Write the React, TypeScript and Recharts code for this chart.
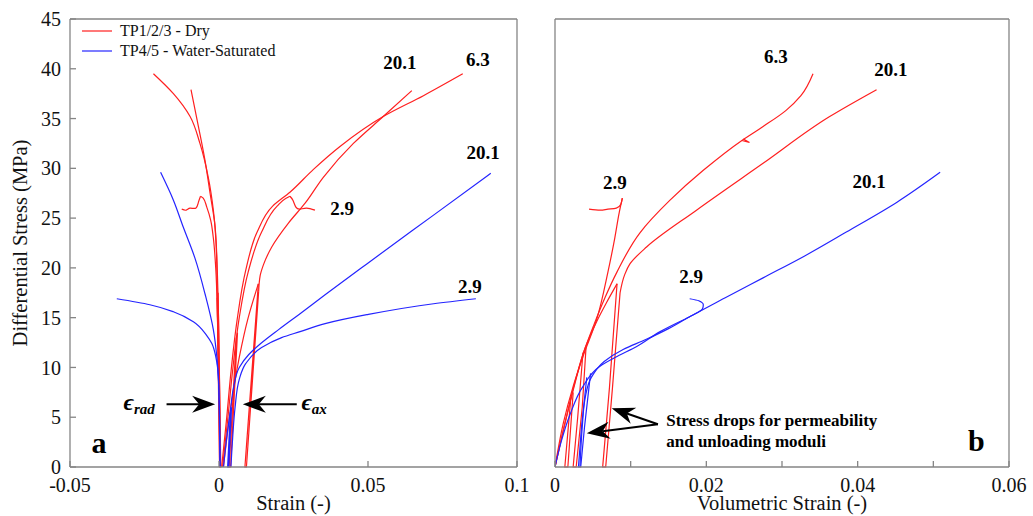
import { LineChart, Line, XAxis, YAxis, Legend, ReferenceLine, ReferenceDot } from 'recharts';

const RED = '#ff1f1f';
const BLUE = '#2424ff';
const AXIS = '#858585';
const FONT = '"Liberation Serif", "Times New Roman", serif';

type Pt = [number, number];

// ---- panel a: strain (radial < 0, axial > 0) vs differential stress (MPa)
const dry63Rad: Pt[] = [[0.0003, 0], [0.0001, 5], [-0.0002, 10], [-0.0005, 15], [-0.0008, 21.1], [-0.0019, 25.8], [-0.0036, 29.1], [-0.0064, 32.5], [-0.0097, 35.2], [-0.0153, 37.5], [-0.022, 39.5]];
const dry201Rad: Pt[] = [[0.0005, 0], [0.0003, 6], [0, 12], [-0.0004, 18], [-0.0013, 24.1], [-0.003, 27.5], [-0.0047, 30.8], [-0.0069, 34.2], [-0.0094, 37.9]];
const dry29Rad: Pt[] = [[0.0002, 0], [0, 8], [-0.0005, 15], [-0.0011, 20], [-0.0019, 23], [-0.0028, 24.8], [-0.0041, 26.1], [-0.0053, 27.0], [-0.0062, 27.2]];
const dry29RadTail: Pt[] = [[-0.0062, 27.2], [-0.0069, 26.6], [-0.0078, 26.0], [-0.0097, 26.0], [-0.011, 25.8], [-0.0125, 25.9]];
const wet201Rad: Pt[] = [[0.0004, 0], [0.0001, 6.4], [-0.0007, 11], [-0.0019, 13.8], [-0.0047, 17.4], [-0.0081, 21], [-0.012, 24.1], [-0.0153, 26.8], [-0.0196, 29.6]];
const wet29Rad: Pt[] = [[0.0003, 0], [-0.0001, 8.4], [-0.0011, 11.1], [-0.0024, 12.4], [-0.0041, 13.2], [-0.0086, 14.6], [-0.0153, 15.6], [-0.0232, 16.3], [-0.0343, 16.9]];

const dry29Ax: Pt[] = [[0.0012, 0], [0.003, 5], [0.0045, 9.5], [0.0068, 15], [0.0098, 19.6], [0.0143, 23.6], [0.0195, 26.2], [0.0225, 27.0], [0.0238, 27.2]];
const dry29AxTail: Pt[] = [[0.0238, 27.2], [0.0248, 26.8], [0.0258, 26.1], [0.0272, 25.9], [0.0294, 26.0], [0.0322, 25.8]];
const dry63Ax: Pt[] = [[0.0009, 0], [0.0026, 5], [0.004, 9.5], [0.006, 14.6], [0.009, 19.8], [0.0128, 23.6], [0.018, 26.2], [0.0238, 27.6], [0.0317, 29.9], [0.0406, 32.2], [0.0551, 35.2], [0.0686, 37.3], [0.0818, 39.5]];
const dry201AxLoad: Pt[] = [[0.0015, 0], [0.004, 6], [0.0068, 11], [0.0098, 15], [0.0132, 18.4]];
const dry201AxCycle: Pt[] = [[0.0132, 18.4], [0.0087, 0], [0.0092, 0], [0.0133, 17.6]];
const dry201AxPost: Pt[] = [[0.0133, 17.6], [0.0138, 19.2], [0.0149, 20.3], [0.0177, 22.1], [0.0233, 24.5], [0.0289, 26.5], [0.035, 29.1], [0.0451, 32.5], [0.0551, 35.2], [0.0647, 37.8]];
const wet201Ax: Pt[] = [[0.0015, 0], [0.0026, 3], [0.0037, 5.4], [0.0049, 8], [0.0068, 10], [0.01, 11.3], [0.014, 12.4], [0.02, 13.8], [0.0272, 15.4], [0.0356, 17.3], [0.0496, 20.4], [0.072, 25.3], [0.0912, 29.5]];
const wet29Ax: Pt[] = [[0.004, 0], [0.0046, 3], [0.0054, 6], [0.0068, 8.8], [0.009, 10.4], [0.0143, 12.0], [0.021, 13.0], [0.0272, 13.6], [0.0356, 14.4], [0.0496, 15.3], [0.072, 16.4], [0.0862, 16.9]];
const dryAxLoop: Pt[] = [[0.0058, 13], [0.0034, 0], [0.0039, 0], [0.0062, 13.5]];
const dryRadLoop: Pt[] = [[-0.0006, 17], [0.0002, 0], [0.0006, 0], [-0.0003, 17.5]];
const wetAxLoop: Pt[] = [[0.0038, 5.5], [0.0029, 0], [0.0033, 0], [0.0042, 6]];

// ---- panel b: volumetric strain vs differential stress (MPa)
const dry29Vol: Pt[] = [[0, 0], [0.0011, 4.4], [0.0024, 8.1], [0.0037, 11.1], [0.0055, 14.8], [0.007, 19.6], [0.0079, 23], [0.0085, 25.6], [0.0089, 27.0]];
const dry29VolTail: Pt[] = [[0.0089, 27.0], [0.0087, 26.4], [0.0081, 26.0], [0.007, 25.9], [0.006, 25.8], [0.0045, 25.9]];
const dry63Vol: Pt[] = [[0, 0], [0.0012, 4], [0.0025, 8], [0.0037, 11.3], [0.0051, 14.2], [0.0066, 17], [0.0082, 19.6], [0.0112, 23.5], [0.0152, 26.8], [0.0196, 29.8], [0.0247, 32.8], [0.0275, 34.2], [0.0305, 35.8], [0.0325, 37.3], [0.0341, 39.5]];
const dry63VolBlip: Pt[] = [[0.0247, 32.8], [0.0257, 32.6], [0.0249, 32.95]];
const dry201VolLoad: Pt[] = [[0, 0], [0.0015, 5], [0.0028, 9], [0.004, 12], [0.0055, 14.6], [0.0068, 16.5], [0.0082, 18.4]];
const dry201VolCycle: Pt[] = [[0.0082, 18.4], [0.0072, 8], [0.0063, 0], [0.0067, 0], [0.0076, 8], [0.0086, 17.5]];
const dry201VolPost: Pt[] = [[0.0086, 17.5], [0.0092, 19.3], [0.0099, 20.4], [0.0121, 22.1], [0.0187, 25.8], [0.0275, 30.5], [0.0363, 35.2], [0.0425, 37.9]];
const wet201Vol: Pt[] = [[0, 0], [0.0008, 2.5], [0.002, 5.3], [0.0037, 8.1], [0.0059, 10.1], [0.0082, 11.1], [0.0108, 12.1], [0.0139, 13.6], [0.0178, 15.1], [0.0225, 17.0], [0.0275, 19.0], [0.033, 21.2], [0.0385, 23.6], [0.0452, 26.6], [0.0509, 29.6]];
const wet29Vol: Pt[] = [[0.0033, 0], [0.0036, 4], [0.004, 7], [0.0048, 9], [0.0065, 10.6], [0.009, 11.8], [0.012, 12.8], [0.015, 13.9], [0.0178, 15.1], [0.0188, 15.5], [0.0195, 15.9], [0.0196, 16.3], [0.019, 16.7], [0.0178, 16.9]];
const dryVolLoopA: Pt[] = [[0.0037, 11.5], [0.003, 5], [0.0024, 0], [0.0028, 0], [0.0036, 6], [0.0041, 12]];
const dryVolLoopB: Pt[] = [[0.0021, 7], [0.0013, 0], [0.0017, 0], [0.0024, 7.5]];
const wetVolLoop: Pt[] = [[0.0042, 9], [0.0035, 4], [0.0031, 0], [0.0034, 0], [0.0039, 4], [0.0047, 9.4]];

// ticks
const stressTicks = [0, 5, 10, 15, 20, 25, 30, 35, 40, 45];
const strainTicks = [-0.05, 0, 0.05, 0.1];
const volTicks = [0, 0.01, 0.02, 0.03, 0.04, 0.05, 0.06];
const volLabelTicks = [0, 0.02, 0.04, 0.06];

// confining pressure labels (MPa)
const labelsA: [number, number, string][] = [[0.0607, 40.6, '20.1'], [0.0869, 40.9, '6.3'], [0.0886, 31.6, '20.1'], [0.0413, 26, '2.9'], [0.0842, 18.1, '2.9']];
const labelsB: [number, number, string][] = [[0.0292, 41.2, '6.3'], [0.0444, 39.9, '20.1'], [0.0079, 28.6, '2.9'], [0.0415, 28.7, '20.1'], [0.018, 19.2, '2.9']];

type Curve = 'natural' | 'linear' | 'monotoneY';
interface Series { id: string; data: Pt[]; color: string; curve: Curve; name?: string }

const seriesA: Series[] = [
  { id: 'dry63Rad', data: dry63Rad, color: RED, curve: 'monotoneY', name: 'TP1/2/3 - Dry' },
  { id: 'dry201Rad', data: dry201Rad, color: RED, curve: 'monotoneY' },
  { id: 'dry29Rad', data: dry29Rad, color: RED, curve: 'monotoneY' },
  { id: 'dry29RadTail', data: dry29RadTail, color: RED, curve: 'natural' },
  { id: 'dryRadLoop', data: dryRadLoop, color: RED, curve: 'linear' },
  { id: 'dry29Ax', data: dry29Ax, color: RED, curve: 'monotoneY' },
  { id: 'dry29AxTail', data: dry29AxTail, color: RED, curve: 'natural' },
  { id: 'dry63Ax', data: dry63Ax, color: RED, curve: 'monotoneY' },
  { id: 'dry201AxLoad', data: dry201AxLoad, color: RED, curve: 'monotoneY' },
  { id: 'dry201AxCycle', data: dry201AxCycle, color: RED, curve: 'linear' },
  { id: 'dry201AxPost', data: dry201AxPost, color: RED, curve: 'monotoneY' },
  { id: 'dryAxLoop', data: dryAxLoop, color: RED, curve: 'linear' },
  { id: 'wet201Rad', data: wet201Rad, color: BLUE, curve: 'monotoneY', name: 'TP4/5 - Water-Saturated' },
  { id: 'wet29Rad', data: wet29Rad, color: BLUE, curve: 'monotoneY' },
  { id: 'wet201Ax', data: wet201Ax, color: BLUE, curve: 'monotoneY' },
  { id: 'wet29Ax', data: wet29Ax, color: BLUE, curve: 'monotoneY' },
  { id: 'wetAxLoop', data: wetAxLoop, color: BLUE, curve: 'linear' },
];

const seriesB: Series[] = [
  { id: 'dry29Vol', data: dry29Vol, color: RED, curve: 'monotoneY' },
  { id: 'dry29VolTail', data: dry29VolTail, color: RED, curve: 'natural' },
  { id: 'dry63Vol', data: dry63Vol, color: RED, curve: 'monotoneY' },
  { id: 'dry63VolBlip', data: dry63VolBlip, color: RED, curve: 'linear' },
  { id: 'dry201VolLoad', data: dry201VolLoad, color: RED, curve: 'monotoneY' },
  { id: 'dry201VolCycle', data: dry201VolCycle, color: RED, curve: 'linear' },
  { id: 'dry201VolPost', data: dry201VolPost, color: RED, curve: 'monotoneY' },
  { id: 'dryVolLoopA', data: dryVolLoopA, color: RED, curve: 'linear' },
  { id: 'dryVolLoopB', data: dryVolLoopB, color: RED, curve: 'linear' },
  { id: 'wet201Vol', data: wet201Vol, color: BLUE, curve: 'monotoneY' },
  { id: 'wet29Vol', data: wet29Vol, color: BLUE, curve: 'monotoneY' },
  { id: 'wetVolLoop', data: wetVolLoop, color: BLUE, curve: 'linear' },
];

const pts = (a: Pt[]) => a.map(([x, y]) => ({ x, y }));

const renderLines = (list: Series[]) =>
  list.map((s) => (
    <Line
      key={s.id}
      data={pts(s.data)}
      dataKey="y"
      type={s.curve}
      stroke={s.color}
      strokeWidth={1.2}
      dot={false}
      activeDot={false}
      name={s.name ?? s.id}
      legendType={s.name ? 'plainline' : 'none'}
      isAnimationActive={false}
    />
  ));

const tickFont = { fill: '#111', fontSize: 20, fontFamily: FONT };
const axisLabel = { fill: '#111', fontSize: 20.5, fontFamily: FONT };

const boldText = (text: string, size = 19) => (p: any) => (
  <text x={p.cx} y={p.cy} dy={size * 0.35} textAnchor="middle" fontFamily={FONT} fontWeight="bold" fontSize={size} fill="#000">
    {text}
  </text>
);

const epsText = (sub: string) => (p: any) => (
  <text x={p.cx} y={p.cy + 5} textAnchor="middle" fontFamily={FONT} fontStyle="italic" fontWeight="bold" fill="#000">
    <tspan fontSize={24}>ϵ</tspan>
    <tspan fontSize={15} dy={4}>{sub}</tspan>
  </text>
);

const dropsText = (p: any) => (
  <text fontFamily={FONT} fontWeight="bold" fontSize={17} fill="#000">
    <tspan x={p.cx} y={p.cy + 5}>Stress drops for permeability</tspan>
    <tspan x={p.cx} y={p.cy + 26}>and unloading moduli</tspan>
  </text>
);

// arrow from segment start (tail) to segment end (tip)
const arrow = (p: any) => {
  const { x1, y1, x2, y2 } = p;
  const a = Math.atan2(y2 - y1, x2 - x1);
  const L = 23, W = 8.5, N = 7;
  const cos = Math.cos(a), sin = Math.sin(a);
  const at = (back: number, side: number) => `${x2 - back * cos - side * sin},${y2 - back * sin + side * cos}`;
  return (
    <g>
      <line x1={x1} y1={y1} x2={x2 - (L - N) * cos} y2={y2 - (L - N) * sin} stroke="#000" strokeWidth={2} />
      <polygon points={`${x2},${y2} ${at(L, W)} ${at(L - N, 0)} ${at(L, -W)}`} fill="#000" />
    </g>
  );
};

const renderLegend = (props: any) => (
  <div style={{ fontFamily: FONT, fontSize: 16, color: '#111', lineHeight: '20px' }}>
    {(props.payload ?? [])
      .filter((e: any) => e.type !== 'none')
      .map((e: any) => (
        <div key={e.value} style={{ display: 'flex', alignItems: 'center', whiteSpace: 'nowrap' }}>
          <svg width={42} height={20}>
            <line x1={4} y1={10} x2={34} y2={10} stroke={e.color} strokeWidth={1.2} />
          </svg>
          <span>{e.value}</span>
        </div>
      ))}
  </div>
);

const frameLine = { stroke: AXIS, strokeWidth: 1.3 };

export default function App() {
  return (
    <div style={{ position: 'fixed', left: 0, top: 0, width: 1033, height: 516, background: '#fff' }}>
      <div style={{ position: 'absolute', left: 0, top: 0 }}>
        <LineChart width={540} height={516} margin={{ top: 18, right: 22, bottom: 0, left: 0 }}>
          <XAxis dataKey="x" type="number" domain={[-0.05, 0.1]} ticks={strainTicks} interval={0} allowDataOverflow height={49}
            tickSize={-6} tickMargin={17} tick={tickFont} axisLine={frameLine} tickLine={frameLine}
            label={{ value: 'Strain (-)', position: 'insideBottom', offset: 6, ...axisLabel }} />
          <XAxis xAxisId="top" orientation="top" dataKey="x" type="number" domain={[-0.05, 0.1]} ticks={strainTicks} interval={0}
            height={1} tickSize={-6} tick={false} axisLine={frameLine} tickLine={frameLine} />
          <YAxis type="number" domain={[0, 45]} ticks={stressTicks} interval={0} width={70} tickSize={-6} tickMargin={15}
            tick={tickFont} axisLine={frameLine} tickLine={frameLine}
            label={{ value: 'Differential Stress (MPa)', angle: -90, position: 'center', dx: -15, ...axisLabel }} />
          <YAxis yAxisId="right" orientation="right" type="number" domain={[0, 45]} ticks={stressTicks} interval={0}
            width={1} tickSize={-6} tick={false} axisLine={frameLine} tickLine={frameLine} />
          <Legend layout="vertical" align="center" verticalAlign="middle" wrapperStyle={{ left: 78, top: 21, width: 'auto' }} content={renderLegend} />
          {renderLines(seriesA)}
          <ReferenceLine segment={[{ x: -0.0176, y: 6.3 }, { x: -0.0013, y: 6.3 }]} shape={arrow} />
          <ReferenceLine segment={[{ x: 0.0261, y: 6.3 }, { x: 0.008, y: 6.3 }]} shape={arrow} />
          <ReferenceDot x={-0.0268} y={6.2} r={1} shape={epsText('rad')} />
          <ReferenceDot x={0.0319} y={6.2} r={1} shape={epsText('ax')} />
          {labelsA.map(([x, y, t], i) => (
            <ReferenceDot key={`la${i}`} x={x} y={y} r={1} shape={boldText(t)} />
          ))}
          <ReferenceDot x={-0.0403} y={2.5} r={1} shape={boldText('a', 30)} />
        </LineChart>
      </div>
      <div style={{ position: 'absolute', left: 530, top: 0 }}>
        <LineChart width={503} height={516} margin={{ top: 18, right: 23, bottom: 0, left: 0 }}>
          <XAxis dataKey="x" type="number" domain={[0, 0.06]} ticks={volTicks} interval={0} allowDataOverflow height={49}
            tickSize={-6} tickMargin={17} tick={tickFont} axisLine={frameLine} tickLine={frameLine}
            tickFormatter={(v: number) => (volLabelTicks.includes(v) ? String(v) : '')}
            label={{ value: 'Volumetric Strain (-)', position: 'insideBottom', offset: 6, ...axisLabel }} />
          <XAxis xAxisId="top" orientation="top" dataKey="x" type="number" domain={[0, 0.06]} ticks={volTicks} interval={0}
            height={1} tickSize={-6} tick={false} axisLine={frameLine} tickLine={frameLine} />
          <YAxis type="number" domain={[0, 45]} ticks={stressTicks} interval={0} width={25} tickSize={-6}
            tick={false} axisLine={frameLine} tickLine={frameLine} />
          <YAxis yAxisId="right" orientation="right" type="number" domain={[0, 45]} ticks={stressTicks} interval={0}
            width={1} tickSize={-6} tick={false} axisLine={frameLine} tickLine={frameLine} />
          {renderLines(seriesB)}
          <ReferenceLine segment={[{ x: 0.0136, y: 4.3 }, { x: 0.0075, y: 5.9 }]} shape={arrow} />
          <ReferenceLine segment={[{ x: 0.0136, y: 4.3 }, { x: 0.0042, y: 3.4 }]} shape={arrow} />
          <ReferenceDot x={0.0147} y={4.6} r={1} shape={dropsText} />
          {labelsB.map(([x, y, t], i) => (
            <ReferenceDot key={`lb${i}`} x={x} y={y} r={1} shape={boldText(t)} />
          ))}
          <ReferenceDot x={0.0557} y={2.7} r={1} shape={boldText('b', 30)} />
        </LineChart>
      </div>
    </div>
  );
}
